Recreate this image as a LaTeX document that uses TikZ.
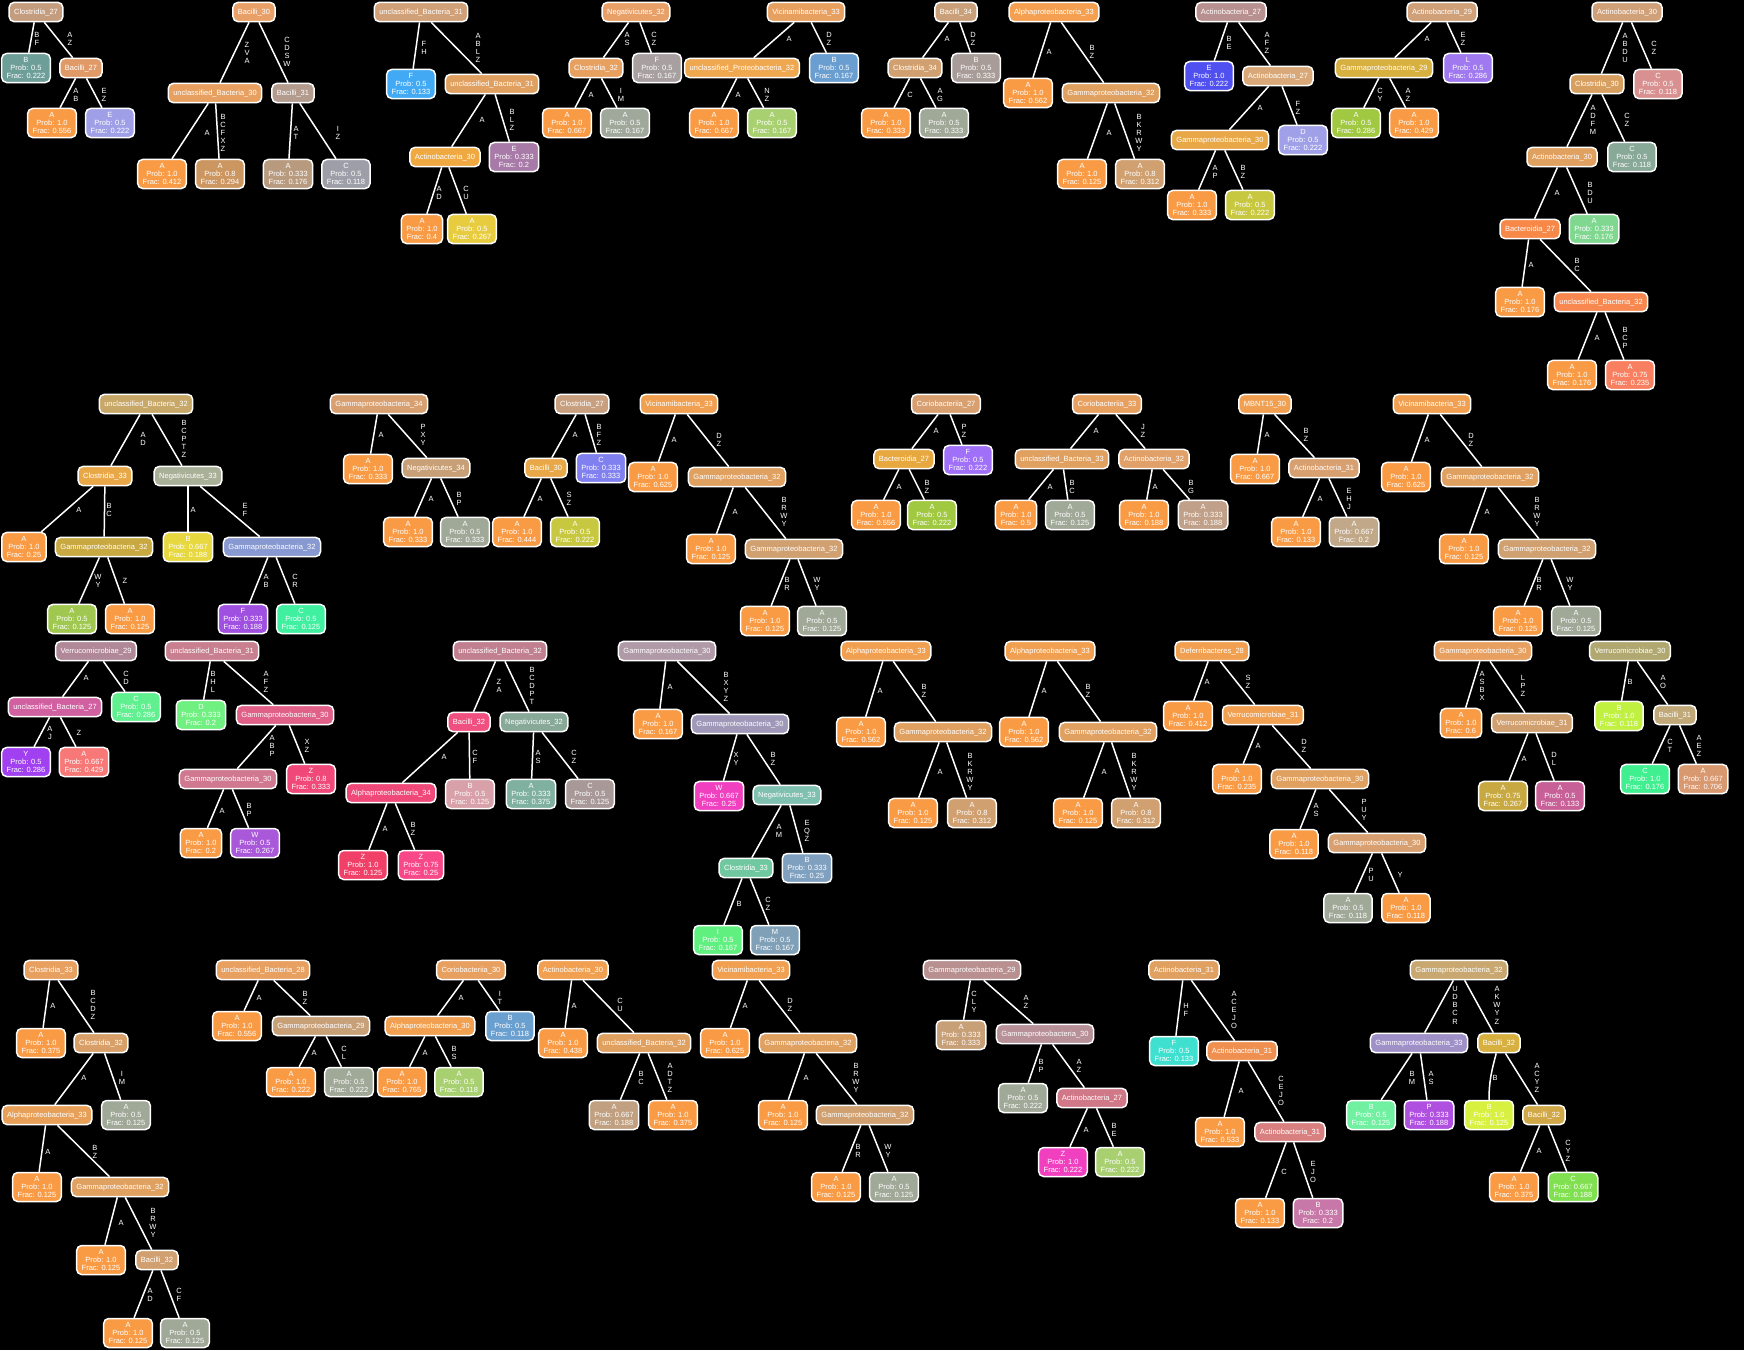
\documentclass[tikz,border=0pt]{standalone}
\usepackage{fontspec}
\setmainfont{Liberation Sans}
\tikzset{
  basebox/.style={draw=white, line width=1.5pt, rounded corners=5pt, text=white,
    font=\fontsize{7.5}{8.3}\selectfont, inner xsep=5pt},
  innode/.style={basebox, inner ysep=6.1pt, text height=5.5pt, text depth=1.5pt},
  leafnode/.style={basebox, align=center, inner ysep=3.6pt},
  elab/.style={text=white, font=\fontsize{7.5}{8.2}\selectfont, align=center, inner sep=0pt},
  conn/.style={draw=white, line width=1.5pt}
}
\newcommand{\tnode}[4]{\definecolor{c#1}{HTML}{#3}\node[innode,fill=c#1] (#1) at (#2) {#4};}
\newcommand{\tleaf}[6]{\definecolor{c#1}{HTML}{#3}\node[leafnode,fill=c#1] (#1) at (#2) {#4\\Prob: #5\\Frac: #6};}
\newcommand{\tedge}[4]{\draw[conn] (#1) -- (#2); \node[elab] (l#2) at (#3) {#4};}
\begin{document}
\begin{tikzpicture}[x=1pt,y=-1pt]
\useasboundingbox (0,0) rectangle (1744,1350);
\fill[black] (0,0) rectangle (1744,1350);
% ---------- Tree 1
\tnode{t1r}{36,12}{C49C7E}{Clostridia\_27}
\tleaf{t1a}{26,68}{6E9E98}{B}{0.5}{0.222}
\tnode{t1b}{81,68}{E09A68}{Bacilli\_27}
\tleaf{t1c}{52,123}{F99B45}{A}{1.0}{0.556}
\tleaf{t1d}{110,123}{9F9FE8}{E}{0.5}{0.222}
\tedge{t1r}{t1a}{37,39}{B\\F}
\tedge{t1r}{t1b}{70,39}{A\\Z}
\tedge{t1b}{t1c}{76,95}{A\\B}
\tedge{t1b}{t1d}{104,95}{E\\Z}
% ---------- Tree 2
\tnode{t2r}{254,12}{E8A068}{Bacilli\_30}
\tnode{t2a}{215,93}{E8A060}{unclassified\_Bacteria\_30}
\tnode{t2b}{293,93}{B39B8E}{Bacilli\_31}
\tleaf{t2c}{162,174}{F99B45}{A}{1.0}{0.412}
\tleaf{t2d}{220,174}{CC9660}{A}{0.8}{0.294}
\tleaf{t2e}{288,174}{B89A7E}{A}{0.333}{0.176}
\tleaf{t2f}{346,174}{9E9EA8}{C}{0.5}{0.118}
\tedge{t2r}{t2a}{247,53}{Z\\V\\A}
\tedge{t2r}{t2b}{287,52}{C\\D\\S\\W}
\tedge{t2a}{t2c}{207,133}{A}
\tedge{t2a}{t2d}{223,133}{B\\C\\F\\X\\Z}
\tedge{t2b}{t2e}{296,133}{A\\T}
\tedge{t2b}{t2f}{338,133}{I\\Z}
% ---------- Tree 3
\tnode{t3r}{421,12}{D0A078}{unclassified\_Bacteria\_31}
\tleaf{t3a}{411,84}{42AAF5}{F}{0.5}{0.133}
\tnode{t3b}{492,84}{E0A060}{unclassified\_Bacteria\_31}
\tnode{t3c}{445,157}{F0A840}{Actinobacteria\_30}
\tleaf{t3d}{514,157}{A87AA8}{E}{0.333}{0.2}
\tleaf{t3e}{422,229}{F99B45}{A}{1.0}{0.4}
\tleaf{t3f}{472,229}{E8CC40}{A}{0.5}{0.267}
\tedge{t3r}{t3a}{424,48}{F\\H}
\tedge{t3r}{t3b}{478,48}{A\\B\\L\\Z}
\tedge{t3b}{t3c}{482,120}{A}
\tedge{t3b}{t3d}{512,120}{B\\L\\Z}
\tedge{t3c}{t3e}{439,193}{A\\D}
\tedge{t3c}{t3f}{466,193}{C\\U}
% ---------- Tree 4
\tnode{t4r}{636,12}{E8A068}{Negativicutes\_32}
\tnode{t4a}{596,68}{E8A060}{Clostridia\_32}
\tleaf{t4b}{657,68}{A8A0A0}{F}{0.5}{0.167}
\tleaf{t4c}{567,123}{F99B45}{A}{1.0}{0.667}
\tleaf{t4d}{625,123}{A0A89C}{A}{0.5}{0.167}
\tedge{t4r}{t4a}{627,39}{A\\S}
\tedge{t4r}{t4b}{654,39}{C\\Z}
\tedge{t4a}{t4c}{591,95}{A}
\tedge{t4a}{t4d}{621,95}{I\\M}
% ---------- Tree 5
\tnode{t5r}{806,12}{E8A060}{Vicinamibacteria\_33}
\tnode{t5a}{742,68}{F0A850}{unclassified\_Proteobacteria\_32}
\tleaf{t5b}{834,68}{6A9ED0}{B}{0.5}{0.167}
\tleaf{t5c}{714,123}{F99B45}{A}{1.0}{0.667}
\tleaf{t5d}{772,123}{A8D070}{A}{0.5}{0.167}
\tedge{t5r}{t5a}{789,39}{A}
\tedge{t5r}{t5b}{829,39}{D\\Z}
\tedge{t5a}{t5c}{738,95}{A}
\tedge{t5a}{t5d}{767,95}{N\\Z}
% ---------- Tree 6
\tnode{t6r}{956,12}{C9A07A}{Bacilli\_34}
\tnode{t6a}{915,68}{D0A070}{Clostridia\_34}
\tleaf{t6b}{976,68}{A89C98}{B}{0.5}{0.333}
\tleaf{t6c}{886,123}{F99B45}{A}{1.0}{0.333}
\tleaf{t6d}{944,123}{A0A898}{A}{0.5}{0.333}
\tedge{t6r}{t6a}{947,39}{A}
\tedge{t6r}{t6b}{973,39}{D\\Z}
\tedge{t6a}{t6c}{910,95}{C}
\tedge{t6a}{t6d}{940,95}{A\\G}
% ---------- Tree 7
\tnode{t7r}{1054,12}{F5A050}{Alphaproteobacteria\_33}
\tleaf{t7a}{1028,93}{F99B45}{A}{1.0}{0.562}
\tnode{t7b}{1111,93}{E0A060}{Gammaproteobacteria\_32}
\tleaf{t7c}{1082,174}{F99B45}{A}{1.0}{0.125}
\tleaf{t7d}{1140,174}{D0A070}{A}{0.8}{0.312}
\tedge{t7r}{t7a}{1049,52}{A}
\tedge{t7r}{t7b}{1092,52}{B\\Z}
\tedge{t7b}{t7c}{1109,133}{A}
\tedge{t7b}{t7d}{1139,133}{B\\K\\R\\W\\Y}
% ---------- Tree 8
\tnode{t8r}{1231,12}{B89090}{Actinobacteria\_27}
\tleaf{t8a}{1209,76}{5050F0}{E}{1.0}{0.222}
\tnode{t8b}{1278,76}{D8A878}{Actinobacteria\_27}
\tnode{t8c}{1220,140}{E8A848}{Gammaproteobacteria\_30}
\tleaf{t8d}{1303,140}{A0A0E8}{D}{0.5}{0.222}
\tleaf{t8e}{1192,205}{F99B45}{A}{1.0}{0.333}
\tleaf{t8f}{1250,205}{C8C840}{A}{0.5}{0.222}
\tedge{t8r}{t8a}{1229,43}{B\\E}
\tedge{t8r}{t8b}{1267,43}{A\\F\\Z}
\tedge{t8b}{t8c}{1260,108}{A}
\tedge{t8b}{t8d}{1298,108}{F\\Z}
\tedge{t8c}{t8e}{1215,172}{A\\P}
\tedge{t8c}{t8f}{1243,172}{B\\Z}
% ---------- Tree 9
\tnode{t9r}{1442,12}{D0A078}{Actinobacteria\_29}
\tnode{t9a}{1384,68}{D8B040}{Gammaproteobacteria\_29}
\tleaf{t9b}{1468,68}{A078F0}{L}{0.5}{0.286}
\tleaf{t9c}{1356,123}{A0C840}{A}{0.5}{0.286}
\tleaf{t9d}{1414,123}{F99B45}{A}{1.0}{0.429}
\tedge{t9r}{t9a}{1427,39}{A}
\tedge{t9r}{t9b}{1463,39}{E\\Z}
\tedge{t9a}{t9c}{1380,95}{C\\Y}
\tedge{t9a}{t9d}{1408,95}{A\\Z}
% ---------- Tree 10
\tnode{t10r}{1627,12}{D0A078}{Actinobacteria\_30}
\tnode{t10a}{1597,84}{D8A060}{Clostridia\_30}
\tleaf{t10b}{1658,84}{D89090}{C}{0.5}{0.118}
\tnode{t10c}{1562,157}{E0A060}{Actinobacteria\_30}
\tleaf{t10d}{1632,157}{88A898}{C}{0.5}{0.118}
\tnode{t10e}{1530,229}{F88848}{Bacteroidia\_27}
\tleaf{t10f}{1594,229}{80D890}{A}{0.333}{0.176}
\tleaf{t10g}{1520,302}{F99B45}{A}{1.0}{0.176}
\tnode{t10h}{1601,302}{F88850}{unclassified\_Bacteria\_32}
\tleaf{t10i}{1572,375}{F99B45}{A}{1.0}{0.176}
\tleaf{t10j}{1630,375}{F88060}{A}{0.75}{0.235}
\tedge{t10r}{t10a}{1625,48}{A\\B\\D\\U}
\tedge{t10r}{t10b}{1654,48}{C\\Z}
\tedge{t10a}{t10c}{1593,120}{A\\D\\F\\M}
\tedge{t10a}{t10d}{1627,120}{C\\Z}
\tedge{t10c}{t10e}{1557,193}{A}
\tedge{t10c}{t10f}{1590,193}{B\\D\\U}
\tedge{t10e}{t10g}{1531,265}{A}
\tedge{t10e}{t10h}{1577,265}{B\\C}
\tedge{t10h}{t10i}{1597,338}{A}
\tedge{t10h}{t10j}{1625,338}{B\\C\\P}
% ---------- Tree 11
\tnode{t11r}{146,404}{C8A868}{unclassified\_Bacteria\_32}
\tnode{t11a}{105,476}{E8A848}{Clostridia\_33}
\tnode{t11b}{188,476}{A8B098}{Negativicutes\_33}
\tleaf{t11c}{24,547}{F99B45}{A}{1.0}{0.25}
\tnode{t11d}{104,547}{C8A840}{Gammaproteobacteria\_32}
\tleaf{t11e}{72,619}{A0C850}{A}{0.5}{0.125}
\tleaf{t11f}{130,619}{F99B45}{A}{1.0}{0.125}
\tleaf{t11g}{188,547}{E8D840}{B}{0.667}{0.188}
\tnode{t11h}{272,547}{8898D0}{Gammaproteobacteria\_32}
\tleaf{t11i}{243,619}{A050E0}{F}{0.333}{0.188}
\tleaf{t11j}{301,619}{40F0A0}{C}{0.5}{0.125}
\tedge{t11r}{t11a}{143,439}{A\\D}
\tedge{t11r}{t11b}{184,439}{B\\C\\P\\T\\Z}
\tedge{t11a}{t11c}{79,510}{A}
\tedge{t11a}{t11d}{109,510}{B\\C}
\tedge{t11d}{t11e}{98,581}{W\\Y}
\tedge{t11d}{t11f}{125,581}{Z}
\tedge{t11b}{t11g}{193,510}{A}
\tedge{t11b}{t11h}{245,510}{E\\F}
\tedge{t11h}{t11i}{266,581}{A\\B}
\tedge{t11h}{t11j}{295,581}{C\\R}
% ---------- Tree 12
\tnode{t12r}{96,651}{B08898}{Verrucomicrobiae\_29}
\tnode{t12a}{55,707}{D060A0}{unclassified\_Bacteria\_27}
\tleaf{t12b}{136,707}{60F090}{C}{0.5}{0.286}
\tleaf{t12c}{26,762}{A040F0}{Y}{0.5}{0.286}
\tleaf{t12d}{84,762}{F87878}{A}{0.667}{0.429}
\tedge{t12r}{t12a}{86,678}{A}
\tedge{t12r}{t12b}{126,678}{C\\D}
\tedge{t12a}{t12c}{50,733}{A\\J}
\tedge{t12a}{t12d}{79,733}{Z}
% ---------- Tree 13
\tnode{t13r}{212,651}{C88090}{unclassified\_Bacteria\_31}
\tleaf{t13a}{201,715}{70F080}{D}{0.333}{0.2}
\tnode{t13b}{285,715}{E06088}{Gammaproteobacteria\_30}
\tnode{t13c}{228,779}{D07890}{Gammaproteobacteria\_30}
\tleaf{t13d}{311,779}{F04878}{Z}{0.8}{0.333}
\tleaf{t13e}{201,843}{F99B45}{A}{1.0}{0.2}
\tleaf{t13f}{255,843}{A858D8}{W}{0.5}{0.267}
\tedge{t13r}{t13a}{213,682}{B\\H\\L}
\tedge{t13r}{t13b}{266,682}{A\\F\\Z}
\tedge{t13b}{t13c}{272,746}{A\\B\\P}
\tedge{t13b}{t13d}{307,746}{X\\Z}
\tedge{t13c}{t13e}{222,811}{A}
\tedge{t13c}{t13f}{249,810}{B\\P}
% ---------- Tree 14
\tnode{t14r}{379,404}{D8A070}{Gammaproteobacteria\_34}
\tleaf{t14a}{368,469}{F99B45}{A}{1.0}{0.333}
\tnode{t14b}{436,468}{C8A078}{Negativicutes\_34}
\tleaf{t14c}{408,532}{F99B45}{A}{1.0}{0.333}
\tleaf{t14d}{465,532}{A0A898}{A}{0.5}{0.333}
\tedge{t14r}{t14a}{381,435}{A}
\tedge{t14r}{t14b}{423,435}{P\\X\\Y}
\tedge{t14b}{t14c}{431,499}{A}
\tedge{t14b}{t14d}{459,499}{B\\P}
% ---------- Tree 15
\tnode{t15r}{582,404}{C8A080}{Clostridia\_27}
\tnode{t15a}{546,468}{E8A848}{Bacilli\_30}
\tleaf{t15b}{601,468}{8080F0}{C}{0.333}{0.333}
\tleaf{t15c}{517,532}{F99B45}{A}{1.0}{0.444}
\tleaf{t15d}{575,532}{C8C840}{A}{0.5}{0.222}
\tedge{t15r}{t15a}{575,435}{A}
\tedge{t15r}{t15b}{599,435}{B\\F\\Z}
\tedge{t15a}{t15c}{540,499}{A}
\tedge{t15a}{t15d}{569,499}{S\\Z}
% ---------- Tree 16
\tnode{t16r}{679,404}{F0A050}{Vicinamibacteria\_33}
\tleaf{t16a}{653,477}{F99B45}{A}{1.0}{0.625}
\tnode{t16b}{737,477}{E0A060}{Gammaproteobacteria\_32}
\tleaf{t16c}{711,549}{F99B45}{A}{1.0}{0.125}
\tnode{t16d}{794,549}{D0A070}{Gammaproteobacteria\_32}
\tleaf{t16e}{765,621}{F99B45}{A}{1.0}{0.125}
\tleaf{t16f}{822,621}{A0A898}{A}{0.5}{0.125}
\tedge{t16r}{t16a}{674,440}{A}
\tedge{t16r}{t16b}{719,440}{D\\Z}
\tedge{t16b}{t16c}{735,512}{A}
\tedge{t16b}{t16d}{784,512}{B\\R\\W\\Y}
\tedge{t16d}{t16e}{787,584}{B\\R}
\tedge{t16d}{t16f}{817,584}{W\\Y}
% ---------- Tree 17
\tnode{t17r}{500,651}{C08090}{unclassified\_Bacteria\_32}
\tnode{t17a}{469,722}{F05080}{Bacilli\_32}
\tnode{t17b}{534,722}{88A898}{Negativicutes\_32}
\tnode{t17c}{391,793}{F04878}{Alphaproteobacteria\_34}
\tleaf{t17d}{470,794}{D8A0A8}{B}{0.5}{0.125}
\tleaf{t17e}{363,865}{F04068}{Z}{1.0}{0.125}
\tleaf{t17f}{421,865}{F84888}{Z}{0.75}{0.25}
\tleaf{t17g}{531,794}{80B0A0}{A}{0.333}{0.375}
\tleaf{t17h}{590,794}{A89898}{C}{0.5}{0.125}
\tedge{t17r}{t17a}{499,686}{Z\\A}
\tedge{t17r}{t17b}{532,686}{B\\C\\D\\P\\T}
\tedge{t17a}{t17c}{444,757}{A}
\tedge{t17a}{t17d}{475,757}{C\\F}
\tedge{t17c}{t17e}{385,829}{A}
\tedge{t17c}{t17f}{413,829}{B\\Z}
\tedge{t17b}{t17g}{538,757}{A\\S}
\tedge{t17b}{t17h}{574,757}{C\\Z}
% ---------- Tree 18
\tnode{t18r}{667,651}{B09AA8}{Gammaproteobacteria\_30}
\tleaf{t18a}{658,724}{F99B45}{A}{1.0}{0.167}
\tnode{t18b}{740,724}{A098B8}{Gammaproteobacteria\_30}
\tleaf{t18c}{719,796}{F040C0}{W}{0.667}{0.25}
\tnode{t18d}{787,795}{80C0B0}{Negativicutes\_33}
\tnode{t18e}{746,868}{70C8A0}{Clostridia\_33}
\tleaf{t18f}{807,868}{80A0C0}{B}{0.333}{0.25}
\tleaf{t18g}{718,940}{60F080}{I}{0.5}{0.167}
\tleaf{t18h}{775,940}{80A0B8}{M}{0.5}{0.167}
\tedge{t18r}{t18a}{670,687}{A}
\tedge{t18r}{t18b}{726,687}{B\\X\\Y\\Z}
\tedge{t18b}{t18c}{736,759}{X\\Y}
\tedge{t18b}{t18d}{773,759}{B\\Z}
\tedge{t18d}{t18e}{779,831}{A\\M}
\tedge{t18d}{t18f}{807,831}{E\\Q\\Z}
\tedge{t18e}{t18g}{739,904}{B}
\tedge{t18e}{t18h}{768,904}{C\\Z}
% ---------- Tree 19
\tnode{t19r}{946,404}{D8A070}{Coriobacteriia\_27}
\tnode{t19a}{904,459}{E8A840}{Bacteroidia\_27}
\tleaf{t19b}{968,460}{A070F8}{F}{0.5}{0.222}
\tleaf{t19c}{876,515}{F99B45}{A}{1.0}{0.556}
\tleaf{t19d}{932,515}{A0C840}{A}{0.5}{0.222}
\tedge{t19r}{t19a}{936,431}{A}
\tedge{t19r}{t19b}{964,431}{P\\Z}
\tedge{t19a}{t19c}{899,487}{A}
\tedge{t19a}{t19d}{927,487}{B\\Z}
% ---------- Tree 20
\tnode{t20r}{1107,404}{E8A060}{Coriobacteriia\_33}
\tnode{t20a}{1062,459}{E0A060}{unclassified\_Bacteria\_33}
\tnode{t20b}{1154,459}{E0A068}{Actinobacteria\_32}
\tleaf{t20c}{1016,515}{F99B45}{A}{1.0}{0.5}
\tleaf{t20d}{1070,515}{A0A898}{A}{0.5}{0.125}
\tleaf{t20e}{1144,515}{F99B45}{A}{1.0}{0.188}
\tleaf{t20f}{1203,515}{C0A088}{A}{0.333}{0.188}
\tedge{t20r}{t20a}{1096,431}{A}
\tedge{t20r}{t20b}{1143,431}{J\\Z}
\tedge{t20a}{t20c}{1050,487}{A}
\tedge{t20a}{t20d}{1072,487}{B\\C}
\tedge{t20b}{t20e}{1155,487}{A}
\tedge{t20b}{t20f}{1191,487}{B\\G}
% ---------- Tree 21
\tnode{t21r}{1265,404}{F0A050}{MBNT15\_30}
\tleaf{t21a}{1255,469}{F99B45}{A}{1.0}{0.667}
\tnode{t21b}{1324,468}{D8A070}{Actinobacteria\_31}
\tleaf{t21c}{1296,532}{F99B45}{A}{1.0}{0.133}
\tleaf{t21d}{1354,532}{C0A888}{A}{0.667}{0.2}
\tedge{t21r}{t21a}{1267,435}{A}
\tedge{t21r}{t21b}{1306,435}{B\\Z}
\tedge{t21b}{t21c}{1320,499}{A}
\tedge{t21b}{t21d}{1349,499}{E\\H\\J}
% ---------- Tree 22
\tnode{t22r}{1432,404}{F0A050}{Vicinamibacteria\_33}
\tleaf{t22a}{1406,477}{F99B45}{A}{1.0}{0.625}
\tnode{t22b}{1490,477}{E0A060}{Gammaproteobacteria\_32}
\tleaf{t22c}{1464,549}{F99B45}{A}{1.0}{0.125}
\tnode{t22d}{1547,549}{D0A070}{Gammaproteobacteria\_32}
\tleaf{t22e}{1518,621}{F99B45}{A}{1.0}{0.125}
\tleaf{t22f}{1576,621}{A0A898}{A}{0.5}{0.125}
\tedge{t22r}{t22a}{1427,440}{A}
\tedge{t22r}{t22b}{1471,440}{D\\Z}
\tedge{t22b}{t22c}{1487,512}{A}
\tedge{t22b}{t22d}{1537,512}{B\\R\\W\\Y}
\tedge{t22d}{t22e}{1539,584}{B\\R}
\tedge{t22d}{t22f}{1570,584}{W\\Y}
% ---------- Tree 23
\tnode{t23r}{886,651}{F0A050}{Alphaproteobacteria\_33}
\tleaf{t23a}{861,732}{F99B45}{A}{1.0}{0.562}
\tnode{t23b}{943,732}{E0A060}{Gammaproteobacteria\_32}
\tleaf{t23c}{913,813}{F99B45}{A}{1.0}{0.125}
\tleaf{t23d}{972,813}{D0A070}{A}{0.8}{0.312}
\tedge{t23r}{t23a}{880,691}{A}
\tedge{t23r}{t23b}{924,691}{B\\Z}
\tedge{t23b}{t23c}{940,772}{A}
\tedge{t23b}{t23d}{970,772}{B\\K\\R\\W\\Y}
% ---------- Tree 24
\tnode{t24r}{1050,651}{F0A050}{Alphaproteobacteria\_33}
\tleaf{t24a}{1024,732}{F99B45}{A}{1.0}{0.562}
\tnode{t24b}{1108,732}{E0A060}{Gammaproteobacteria\_32}
\tleaf{t24c}{1078,813}{F99B45}{A}{1.0}{0.125}
\tleaf{t24d}{1136,813}{D0A070}{A}{0.8}{0.312}
\tedge{t24r}{t24a}{1044,691}{A}
\tedge{t24r}{t24b}{1088,691}{B\\Z}
\tedge{t24b}{t24c}{1104,772}{A}
\tedge{t24b}{t24d}{1134,772}{B\\K\\R\\W\\Y}
% ---------- Tree 25
\tnode{t25r}{1212,651}{F0A050}{Deferribacteres\_28}
\tleaf{t25a}{1188,716}{F99B45}{A}{1.0}{0.412}
\tnode{t25b}{1263,715}{F0A050}{Verrucomicrobiae\_31}
\tleaf{t25c}{1237,779}{F99B45}{A}{1.0}{0.235}
\tnode{t25d}{1320,779}{E0A060}{Gammaproteobacteria\_30}
\tleaf{t25e}{1294,844}{F99B45}{A}{1.0}{0.118}
\tnode{t25f}{1377,843}{D8A070}{Gammaproteobacteria\_30}
\tleaf{t25g}{1348,908}{A0A898}{A}{0.5}{0.118}
\tleaf{t25h}{1406,908}{F99B45}{A}{1.0}{0.118}
\tedge{t25r}{t25a}{1207,682}{A}
\tedge{t25r}{t25b}{1248,682}{S\\Z}
\tedge{t25b}{t25c}{1258,746}{A}
\tedge{t25b}{t25d}{1304,746}{D\\Z}
\tedge{t25d}{t25e}{1316,810}{A\\S}
\tedge{t25d}{t25f}{1364,810}{P\\U\\Y}
\tedge{t25f}{t25g}{1371,875}{P\\U}
\tedge{t25f}{t25h}{1400,875}{Y}
% ---------- Tree 26
\tnode{t26r}{1483,651}{E8A060}{Gammaproteobacteria\_30}
\tleaf{t26a}{1461,723}{F99B45}{A}{1.0}{0.6}
\tnode{t26b}{1532,723}{D0A070}{Verrucomicrobiae\_31}
\tleaf{t26c}{1503,796}{C8A840}{A}{0.75}{0.267}
\tleaf{t26d}{1560,796}{C86098}{A}{0.5}{0.133}
\tedge{t26r}{t26a}{1482,686}{A\\S\\B\\X}
\tedge{t26r}{t26b}{1523,686}{L\\P\\Z}
\tedge{t26b}{t26c}{1524,759}{A}
\tedge{t26b}{t26d}{1554,759}{D\\L}
% ---------- Tree 27
\tnode{t27r}{1630,651}{B0A870}{Verrucomicrobiae\_30}
\tleaf{t27a}{1619,716}{C0F040}{B}{1.0}{0.118}
\tnode{t27b}{1675,715}{C0A878}{Bacilli\_31}
\tleaf{t27c}{1645,779}{40F090}{C}{1.0}{0.176}
\tleaf{t27d}{1703,779}{D89870}{A}{0.667}{0.706}
\tedge{t27r}{t27a}{1630,682}{B}
\tedge{t27r}{t27b}{1663,682}{A\\O}
\tedge{t27b}{t27c}{1670,746}{C\\T}
\tedge{t27b}{t27d}{1699,746}{A\\E\\Z}
% ---------- Tree 28
\tnode{t28r}{51,970}{E8A060}{Clostridia\_33}
\tleaf{t28a}{41,1043}{F99B45}{A}{1.0}{0.375}
\tnode{t28b}{101,1043}{D8A068}{Clostridia\_32}
\tnode{t28c}{47,1115}{E8A058}{Alphaproteobacteria\_33}
\tleaf{t28d}{126,1115}{A0A898}{A}{0.5}{0.125}
\tleaf{t28e}{37,1187}{F99B45}{A}{1.0}{0.125}
\tnode{t28f}{120,1187}{E0A060}{Gammaproteobacteria\_32}
\tleaf{t28g}{101,1260}{F99B45}{A}{1.0}{0.125}
\tnode{t28h}{157,1260}{D0A070}{Bacilli\_32}
\tleaf{t28i}{128,1333}{F99B45}{A}{1.0}{0.125}
\tleaf{t28j}{185,1333}{A0A898}{A}{0.5}{0.125}
\tedge{t28r}{t28a}{53,1006}{A}
\tedge{t28r}{t28b}{93,1005}{B\\C\\D\\Z}
\tedge{t28b}{t28c}{84,1078}{A}
\tedge{t28b}{t28d}{122,1078}{I\\M}
\tedge{t28c}{t28e}{48,1152}{A}
\tedge{t28c}{t28f}{95,1152}{B\\Z}
\tedge{t28f}{t28g}{121,1223}{A}
\tedge{t28f}{t28h}{153,1223}{B\\R\\W\\Y}
\tedge{t28h}{t28i}{150,1295}{A\\D}
\tedge{t28h}{t28j}{179,1295}{C\\F}
% ---------- Tree 29
\tnode{t29r}{263,970}{E8A060}{unclassified\_Bacteria\_28}
\tleaf{t29a}{237,1026}{F99B45}{A}{1.0}{0.556}
\tnode{t29b}{321,1026}{C8A078}{Gammaproteobacteria\_29}
\tleaf{t29c}{291,1082}{F99B45}{A}{1.0}{0.222}
\tleaf{t29d}{349,1082}{A0A898}{A}{0.5}{0.222}
\tedge{t29r}{t29a}{259,998}{A}
\tedge{t29r}{t29b}{305,998}{B\\Z}
\tedge{t29b}{t29c}{314,1053}{A}
\tedge{t29b}{t29d}{344,1053}{C\\L}
% ---------- Tree 30
\tnode{t30r}{471,970}{E8A060}{Coriobacteriia\_30}
\tnode{t30a}{430,1026}{F0A050}{Alphaproteobacteria\_30}
\tleaf{t30b}{510,1026}{6AA0D0}{B}{0.5}{0.118}
\tleaf{t30c}{402,1082}{F99B45}{A}{1.0}{0.765}
\tleaf{t30d}{459,1082}{A8D070}{A}{0.5}{0.118}
\tedge{t30r}{t30a}{461,998}{A}
\tedge{t30r}{t30b}{500,998}{I\\T}
\tedge{t30a}{t30c}{425,1053}{A}
\tedge{t30a}{t30d}{454,1053}{B\\S}
% ---------- Tree 31
\tnode{t31r}{573,970}{F0A050}{Actinobacteria\_30}
\tleaf{t31a}{563,1043}{F99B45}{A}{1.0}{0.438}
\tnode{t31b}{644,1043}{E0A060}{unclassified\_Bacteria\_32}
\tleaf{t31c}{614,1115}{C0A080}{A}{0.667}{0.188}
\tleaf{t31d}{673,1115}{F99B45}{A}{1.0}{0.375}
\tedge{t31r}{t31a}{574,1006}{A}
\tedge{t31r}{t31b}{620,1005}{C\\U}
\tedge{t31b}{t31c}{641,1078}{B\\C}
\tedge{t31b}{t31d}{670,1078}{A\\D\\T\\Z}
% ---------- Tree 32
\tnode{t32r}{751,970}{F0A050}{Vicinamibacteria\_33}
\tleaf{t32a}{725,1043}{F99B45}{A}{1.0}{0.625}
\tnode{t32b}{808,1043}{E0A060}{Gammaproteobacteria\_32}
\tleaf{t32c}{783,1115}{F99B45}{A}{1.0}{0.125}
\tnode{t32d}{865,1115}{D0A070}{Gammaproteobacteria\_32}
\tleaf{t32e}{836,1187}{F99B45}{A}{1.0}{0.125}
\tleaf{t32f}{894,1187}{A0A898}{A}{0.5}{0.125}
\tedge{t32r}{t32a}{745,1006}{A}
\tedge{t32r}{t32b}{790,1005}{D\\Z}
\tedge{t32b}{t32c}{806,1078}{A}
\tedge{t32b}{t32d}{856,1078}{B\\R\\W\\Y}
\tedge{t32d}{t32e}{858,1151}{B\\R}
\tedge{t32d}{t32f}{888,1151}{W\\Y}
% ---------- Tree 33
\tnode{t33r}{972,970}{B89090}{Gammaproteobacteria\_29}
\tleaf{t33a}{961,1035}{C8A078}{A}{0.333}{0.333}
\tnode{t33b}{1045,1034}{B89098}{Gammaproteobacteria\_30}
\tleaf{t33c}{1023,1098}{A0A898}{A}{0.5}{0.222}
\tnode{t33d}{1092,1098}{D07888}{Actinobacteria\_27}
\tleaf{t33e}{1063,1162}{F040C0}{Z}{1.0}{0.222}
\tleaf{t33f}{1120,1162}{A8D070}{A}{0.5}{0.222}
\tedge{t33r}{t33a}{974,1002}{C\\L\\Y}
\tedge{t33r}{t33b}{1026,1002}{A\\Z}
\tedge{t33b}{t33c}{1041,1066}{B\\P}
\tedge{t33b}{t33d}{1079,1066}{A\\Z}
\tedge{t33d}{t33e}{1086,1130}{A}
\tedge{t33d}{t33f}{1114,1130}{B\\E}
% ---------- Tree 34
\tnode{t34r}{1184,970}{E0A060}{Actinobacteria\_31}
\tleaf{t34a}{1174,1051}{40E0D0}{F}{0.5}{0.133}
\tnode{t34b}{1242,1051}{F09050}{Actinobacteria\_31}
\tleaf{t34c}{1220,1132}{F99B45}{A}{1.0}{0.533}
\tnode{t34d}{1290,1132}{D88080}{Actinobacteria\_31}
\tleaf{t34e}{1260,1213}{F99B45}{A}{1.0}{0.133}
\tleaf{t34f}{1318,1213}{C878A8}{B}{0.333}{0.2}
\tedge{t34r}{t34a}{1186,1010}{H\\F}
\tedge{t34r}{t34b}{1234,1010}{A\\C\\E\\J\\O}
\tedge{t34b}{t34c}{1241,1091}{A}
\tedge{t34b}{t34d}{1281,1091}{C\\E\\J\\O}
\tedge{t34d}{t34e}{1284,1172}{C}
\tedge{t34d}{t34f}{1313,1172}{E\\J\\O}
% ---------- Tree 35
\tnode{t35r}{1459,970}{C8A870}{Gammaproteobacteria\_32}
\tnode{t35a}{1419,1043}{A090C8}{Gammaproteobacteria\_33}
\tnode{t35b}{1499,1043}{D8B040}{Bacilli\_32}
\tleaf{t35c}{1371,1115}{70F0A0}{B}{0.5}{0.125}
\tleaf{t35d}{1429,1115}{B050E0}{P}{0.333}{0.188}
\tleaf{t35e}{1489,1115}{D8F040}{B}{1.0}{0.125}
\tnode{t35f}{1544,1115}{D0A848}{Bacilli\_32}
\tleaf{t35g}{1514,1187}{F99B45}{A}{1.0}{0.375}
\tleaf{t35h}{1573,1187}{80E050}{C}{0.667}{0.188}
\tedge{t35r}{t35a}{1455,1005}{U\\D\\B\\C\\R}
\tedge{t35r}{t35b}{1497,1005}{A\\K\\W\\Y\\Z}
\tedge{t35a}{t35c}{1412,1078}{B\\M}
\tedge{t35a}{t35d}{1431,1078}{A\\S}
\draw[conn] (t35b) to[out=-105,in=90] (t35e);
\node[elab] (lt35e) at (1495,1078) {B};
\tedge{t35b}{t35f}{1537,1078}{A\\C\\Y\\Z}
\tedge{t35f}{t35g}{1539,1151}{A}
\tedge{t35f}{t35h}{1568,1151}{C\\Y\\Z}
\end{tikzpicture}
\end{document}
